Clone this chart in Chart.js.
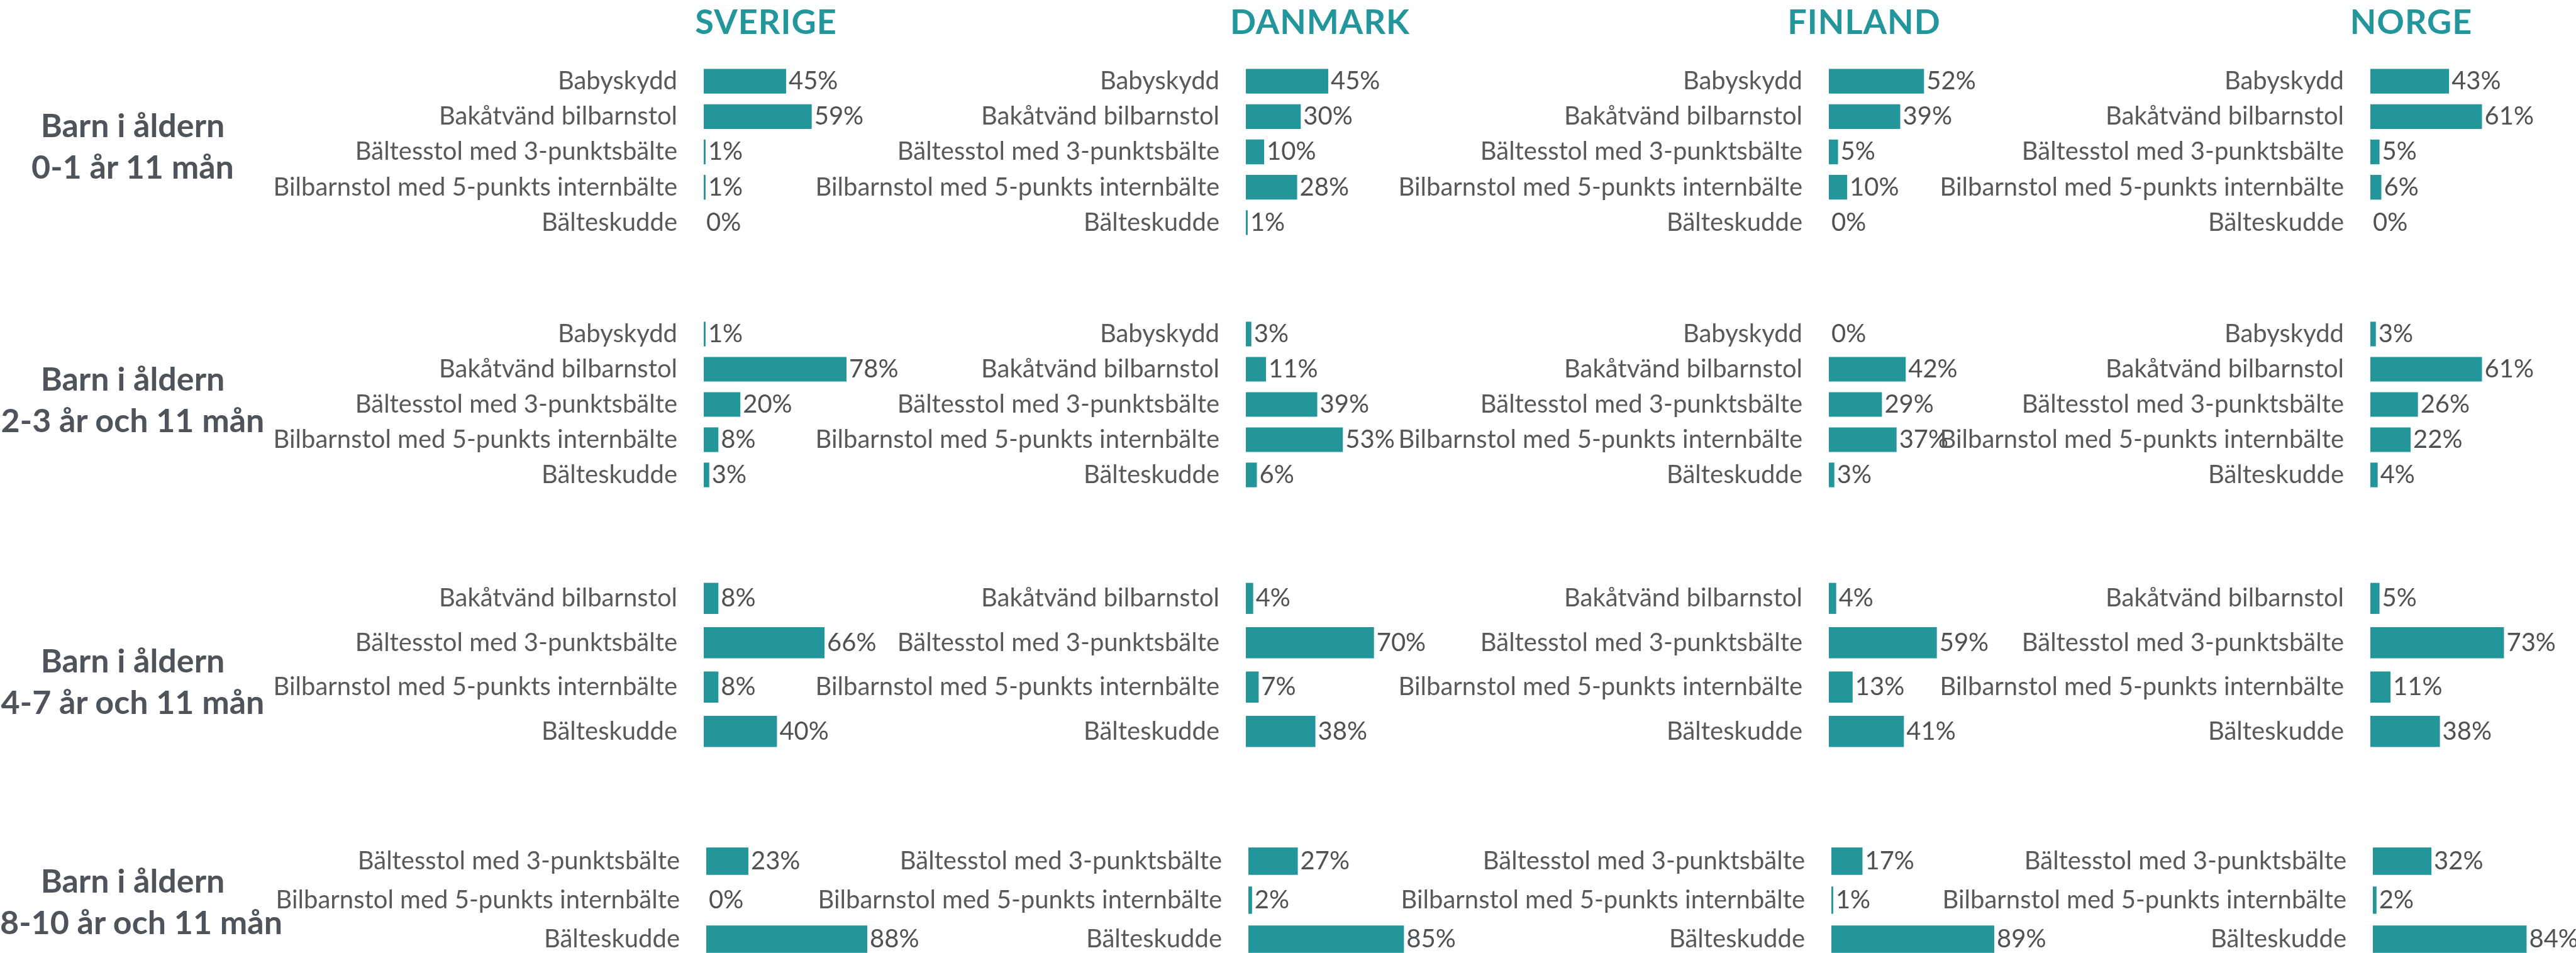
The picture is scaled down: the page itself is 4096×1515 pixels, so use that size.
<!DOCTYPE html>
<html lang="sv">
<head>
<meta charset="utf-8">
<title>Bilbarnstolar per land och ålder</title>
<script src="https://cdn.jsdelivr.net/npm/chart.js@4.4.1/dist/chart.umd.min.js"></script>
<style>
  html, body { margin: 0; padding: 0; background: #fff; }
  body { width: 4096px; height: 1515px; overflow: hidden; position: relative; font-family: Lato, "Noto Sans", sans-serif; }
  canvas { position: absolute; }
  .country { position: absolute; top: 7px; font-weight: 700; font-size: 54px; line-height: 1; color: #23969b; transform: translateX(-50%); white-space: nowrap; letter-spacing: 1px; }
  .age { position: absolute; left: 0; width: 422px; text-align: center; font-weight: 700; font-size: 52px; line-height: 66px; color: #4f545b; white-space: nowrap; }
</style>
</head>
<body>
<script>
const countries = ['SVERIGE', 'DANMARK', 'FINLAND', 'NORGE'];
const ageGroups = [
  ['Barn i åldern', '0-1 år 11 mån'],
  ['Barn i åldern', '2-3 år och 11 mån'],
  ['Barn i åldern', '4-7 år och 11 mån'],
  ['Barn i åldern', '8-10 år och 11 mån']
];

const cats0to1 = ['Babyskydd', 'Bakåtvänd bilbarnstol', 'Bältesstol med 3-punktsbälte', 'Bilbarnstol med 5-punkts internbälte', 'Bälteskudde'];
const cats2to3 = ['Babyskydd', 'Bakåtvänd bilbarnstol', 'Bältesstol med 3-punktsbälte', 'Bilbarnstol med 5-punkts internbälte', 'Bälteskudde'];
const cats4to7 = ['Bakåtvänd bilbarnstol', 'Bältesstol med 3-punktsbälte', 'Bilbarnstol med 5-punkts internbälte', 'Bälteskudde'];
const cats8to10 = ['Bältesstol med 3-punktsbälte', 'Bilbarnstol med 5-punkts internbälte', 'Bälteskudde'];

// one list per country, same order as countries
const values0to1 = [[45, 59, 1, 1, 0], [45, 30, 10, 28, 1], [52, 39, 5, 10, 0], [43, 61, 5, 6, 0]];
const values2to3 = [[1, 78, 20, 8, 3], [3, 11, 39, 53, 6], [0, 42, 29, 37, 3], [3, 61, 26, 22, 4]];
const values4to7 = [[8, 66, 8, 40], [4, 70, 7, 38], [4, 59, 13, 41], [5, 73, 11, 38]];
const values8to10 = [[23, 0, 88], [27, 2, 85], [17, 1, 89], [32, 2, 84]];

const TEAL = '#23969b';
const FONT_SIZE = 40;
const AXIS_W = 740;
const AREA_W = 340;
const PX_PER_PCT = 2.91;

// layout
const barStart = [1119, 1981, 2908, 3769];
const titleX = [1218, 2099, 2964, 3834];
const rows = [
  { cats: cats0to1, values: values0to1, top: 101, height: 281, ageTop: 165, shift: 0 },
  { cats: cats2to3, values: values2to3, top: 503, height: 280, ageTop: 568, shift: 0 },
  { cats: cats4to7, values: values4to7, top: 916, height: 282, ageTop: 1016, shift: 0 },
  { cats: cats8to10, values: values8to10, top: 1338, height: 186, ageTop: 1366, shift: 4 }
];

const valueLabels = {
  id: 'valueLabels',
  afterDatasetsDraw(chart) {
    const ctx = chart.ctx;
    const data = chart.data.datasets[0].data;
    ctx.save();
    ctx.font = FONT_SIZE + 'px Lato';
    ctx.fillStyle = '#4f5254';
    ctx.textBaseline = 'middle';
    ctx.textAlign = 'left';
    chart.getDatasetMeta(0).data.forEach((bar, i) => {
      ctx.fillText(data[i] + '%', bar.x + 4, bar.y);
    });
    ctx.restore();
  }
};

countries.forEach((name, c) => {
  const el = document.createElement('div');
  el.className = 'country';
  el.style.left = titleX[c] + 'px';
  el.textContent = name;
  document.body.appendChild(el);
});

rows.forEach((row, r) => {
  const age = document.createElement('div');
  age.className = 'age';
  age.style.top = row.ageTop + 'px';
  age.innerHTML = ageGroups[r].join('<br>');
  document.body.appendChild(age);

  countries.forEach((name, c) => {
    const canvas = document.createElement('canvas');
    canvas.width = AXIS_W + AREA_W;
    canvas.height = row.height;
    canvas.style.left = (barStart[c] + row.shift - AXIS_W) + 'px';
    canvas.style.top = row.top + 'px';
    document.body.appendChild(canvas);

    new Chart(canvas, {
      type: 'bar',
      data: {
        labels: row.cats,
        datasets: [{
          data: row.values[c],
          backgroundColor: TEAL,
          borderWidth: 0,
          categoryPercentage: 1,
          barPercentage: 0.7
        }]
      },
      options: {
        indexAxis: 'y',
        responsive: false,
        animation: false,
        events: [],
        layout: { padding: 0 },
        plugins: { legend: { display: false }, tooltip: { enabled: false } },
        scales: {
          x: { display: false, min: 0, max: AREA_W / PX_PER_PCT },
          y: {
            grid: { display: false, drawTicks: false },
            border: { display: false },
            ticks: {
              autoSkip: false,
              padding: 42,
              color: '#58595b',
              font: { family: 'Lato', size: FONT_SIZE }
            },
            afterFit(scale) {
              scale.width = AXIS_W;
              scale.paddingTop = 0;
              scale.paddingBottom = 0;
            }
          }
        }
      },
      plugins: [valueLabels]
    });
  });
});
</script>
</body>
</html>
